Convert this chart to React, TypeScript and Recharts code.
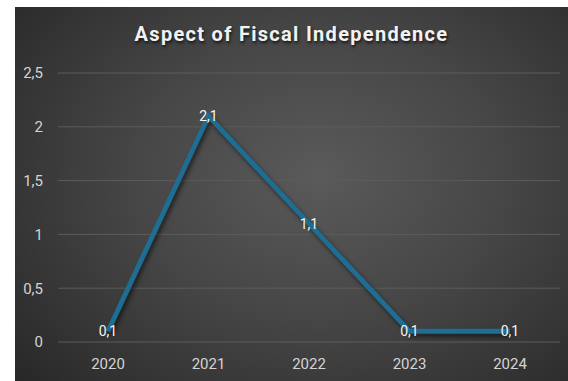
import { LineChart, Line, XAxis, YAxis, CartesianGrid, LabelList } from 'recharts';

const years = ['2020', '2021', '2022', '2023', '2024'];
const values = [0.1, 2.1, 1.1, 0.1, 0.1];
const yTicks = [0, 0.5, 1, 1.5, 2, 2.5];

const data = years.map((year, i) => ({ year, value: values[i] }));

const fmt = (v: unknown) => String(v).replace('.', ',');

export default function App() {
    return (
        <div
            style={{
                position: 'absolute',
                left: 15,
                top: 7,
                width: 553,
                height: 374,
                background:
                    'radial-gradient(ellipse 75% 85% at 55% 45%, #5a5a5a 0%, #464646 45%, #2f2f2f 85%, #262626 100%)',
                fontFamily: 'Roboto, sans-serif',
            }}
        >
            <style>{`.fiscal-line path { filter: drop-shadow(2px 3px 2px rgba(0,0,0,0.55)); }`}</style>
            <div
                style={{
                    position: 'absolute',
                    top: 15,
                    left: 0,
                    width: 553,
                    textAlign: 'center',
                    color: '#f2f2f2',
                    fontSize: 20,
                    fontWeight: 700,
                    letterSpacing: 1.3,
                    textShadow: '1px 2px 3px rgba(0,0,0,0.7)',
                }}
            >
                Aspect of Fiscal Independence
            </div>
            <LineChart
                width={553}
                height={374}
                data={data}
                margin={{ top: 66, right: 8, left: 0, bottom: 9 }}
            >
                <CartesianGrid vertical={false} stroke="#5c5c5c" strokeWidth={1} />
                <XAxis
                    dataKey="year"
                    padding={{ left: 50, right: 50 }}
                    axisLine={false}
                    tickLine={false}
                    tickSize={0}
                    tickMargin={16}
                    height={30}
                    tick={{ fontSize: 15, fill: '#d4d4d4' }}
                />
                <YAxis
                    domain={[0, 2.5]}
                    ticks={yTicks}
                    tickFormatter={fmt}
                    axisLine={false}
                    tickLine={false}
                    tickSize={0}
                    tickMargin={15}
                    width={43}
                    tick={{ fontSize: 15, fill: '#d4d4d4' }}
                />
                <Line
                    className="fiscal-line"
                    type="linear"
                    dataKey="value"
                    stroke="#1f6d92"
                    strokeWidth={5}
                    dot={false}
                    activeDot={false}
                    isAnimationActive={false}
                >
                    <LabelList
                        dataKey="value"
                        position="center"
                        formatter={fmt}
                        fill="#f5f5f5"
                        fontSize={14}
                    />
                </Line>
            </LineChart>
        </div>
    );
}
